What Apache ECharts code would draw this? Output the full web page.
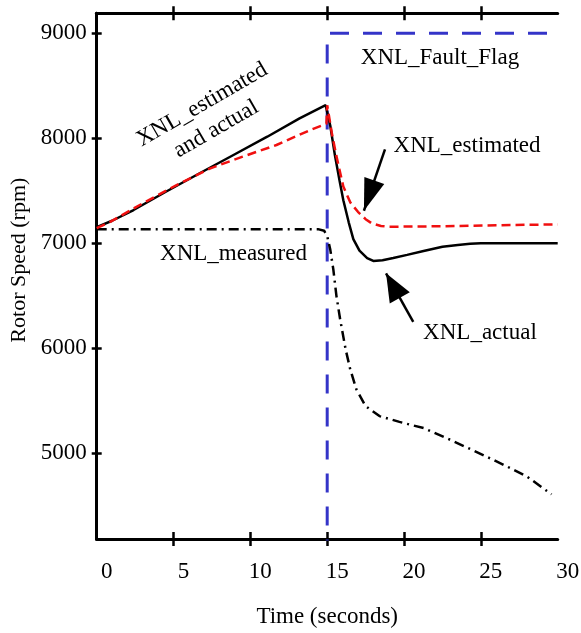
<!DOCTYPE html>
<html>
<head>
<meta charset="utf-8">
<script src="https://cdn.jsdelivr.net/npm/echarts@6/dist/echarts.min.js"></script>
<style>
html,body{margin:0;padding:0;background:#fff;}
#chart{width:581px;height:633px;}
</style>
</head>
<body>
<div id="chart"></div>
<script>
// ---- Data ----
var xTickLabels = [0, 5, 10, 15, 20, 25, 30];
var xTickMarks = [5, 10, 15, 20, 25];
var yTickLabels = [5000, 6000, 7000, 8000, 9000];
var xRange = [0, 30];
var yRange = [4185, 9190];

var actualTime  = [0, 1, 2.4, 4.5, 6.7, 8.9, 11.1, 13.2, 14.9, 15.0, 15.2, 15.5, 15.8, 16.05, 16.4, 16.7, 17.1, 17.6, 18.0, 18.6, 19.3, 20.2, 21.2, 22.5, 23.5, 24.3, 25, 30];
var actualValue = [7155, 7215, 7317, 7491, 7667, 7841, 8015, 8190, 8315, 8322, 8120, 7840, 7600, 7410, 7200, 7040, 6930, 6860, 6832, 6838, 6860, 6890, 6925, 6968, 6985, 6995, 7000, 7000];

var estTime  = [0, 0.9, 3.0, 5.2, 7.4, 9.5, 11.7, 13.9, 14.75, 14.95, 15.0, 15.3, 15.6, 16.05, 16.5, 17.0, 17.5, 17.9, 18.5, 19, 22, 26, 30];
var estValue = [7145, 7206, 7381, 7555, 7714, 7825, 7936, 8079, 8127, 8140, 8315, 8050, 7830, 7540, 7390, 7300, 7230, 7190, 7165, 7158, 7162, 7172, 7180];

var measTime  = [0, 14.4, 14.8, 15.0, 15.2, 15.4, 15.6, 15.85, 16.2, 16.5, 16.9, 17.5, 18.4, 19.7, 21.3, 23.0, 24.7, 26.5, 28.0, 29.6];
var measValue = [7135, 7135, 7120, 7070, 6940, 6750, 6500, 6270, 5990, 5800, 5610, 5450, 5355, 5300, 5240, 5130, 5015, 4890, 4780, 4610];

var flagTime  = [15, 15, 30];
var flagValue = [4000, 9000, 9000];

// annotations: [time, rpm, text, rotation in degrees]
var annotations = [
  [22.34, 8765, 'XNL_Fault_Flag', 0],
  [24.10, 7927, 'XNL_estimated', 0],
  [24.94, 6146, 'XNL_actual', 0],
  [8.90, 6898, 'XNL_measured', 0],
  [7.31, 8203, 'XNL_estimated\nand actual', 30]
];
// arrows: [tailTime, tailRpm, tipTime, tipRpm]
var arrows = [
  [18.76, 7895, 17.39, 7310],
  [20.60, 6253, 18.83, 6714]
];

// ---- Build ----
function zip(a, b) { return a.map(function (v, i) { return [v, b[i]]; }); }
var FONT = 'Liberation Serif';
var headSizes = [[21, 32], [23, 28]];

var chart = echarts.init(document.getElementById('chart'), null, {renderer: 'canvas'});

var axisLineStyle = {show: true, lineStyle: {color: '#000', width: 3}};
var plain = function (v) { return String(v); };
var option = {
  backgroundColor: '#fff',
  animation: false,
  grid: {left: 96.7, right: 23.3, top: 13.3, bottom: 94, outerBoundsMode: 'none', containLabel: false},
  xAxis: [
    {
      type: 'value', position: 'bottom', min: xRange[0], max: xRange[1], interval: 5,
      axisLine: axisLineStyle,
      axisTick: {show: true, inside: true, length: 7, lineStyle: {color: '#000', width: 2.5}, customValues: xTickMarks},
      axisLabel: {show: true, customValues: xTickLabels, formatter: plain, margin: 21, color: '#000', fontFamily: FONT, fontSize: 23, padding: [0, 0, 0, 20]},
      splitLine: {show: false},
      name: 'Time (seconds)', nameLocation: 'middle', nameGap: 66,
      nameTextStyle: {color: '#000', fontFamily: FONT, fontSize: 23}
    },
    {
      type: 'value', position: 'bottom', min: xRange[0], max: xRange[1], interval: 5,
      axisLine: {show: false},
      axisTick: {show: true, inside: false, length: 7, lineStyle: {color: '#000', width: 2.5}, customValues: xTickMarks},
      axisLabel: {show: false}, splitLine: {show: false}
    },
    {
      type: 'value', position: 'top', min: xRange[0], max: xRange[1], interval: 5,
      axisLine: axisLineStyle,
      axisTick: {show: true, inside: true, length: 7, lineStyle: {color: '#000', width: 2.5}, customValues: xTickMarks},
      axisLabel: {show: false}, splitLine: {show: false}
    },
    {
      type: 'value', position: 'top', min: xRange[0], max: xRange[1], interval: 5,
      axisLine: {show: false},
      axisTick: {show: true, inside: false, length: 7, lineStyle: {color: '#000', width: 2.5}, customValues: xTickMarks},
      axisLabel: {show: false}, splitLine: {show: false}
    }
  ],
  yAxis: [
    {
      type: 'value', position: 'left', min: yRange[0], max: yRange[1],
      axisLine: axisLineStyle,
      axisTick: {show: true, inside: true, length: 5, lineStyle: {color: '#000', width: 2.5}, customValues: yTickLabels},
      axisLabel: {show: true, customValues: yTickLabels, formatter: plain, margin: 10, color: '#000', fontFamily: FONT, fontSize: 23, padding: [6, 0, 0, 0]},
      splitLine: {show: false},
      name: 'Rotor Speed (rpm)', nameLocation: 'middle', nameGap: 64, nameRotate: 90,
      nameTextStyle: {color: '#000', fontFamily: FONT, fontSize: 22, padding: [0, 0, 0, 32]}
    },
    {
      type: 'value', position: 'right', min: yRange[0], max: yRange[1],
      axisLine: axisLineStyle,
      axisTick: {show: true, inside: true, length: 5, lineStyle: {color: '#000', width: 2.5}, customValues: yTickLabels},
      axisLabel: {show: false}, splitLine: {show: false}
    }
  ],
  series: [
    {
      name: 'XNL_Fault_Flag', type: 'line', showSymbol: false, clip: true,
      data: zip(flagTime, flagValue),
      lineStyle: {color: '#3434c8', width: 3, type: [19, 14]}, z: 2
    },
    {
      name: 'XNL_measured', type: 'line', showSymbol: false, clip: true,
      data: zip(measTime, measValue),
      lineStyle: {color: '#000', width: 2.5, type: [10, 5, 2, 5]}, z: 3
    },
    {
      name: 'XNL_actual', type: 'line', showSymbol: false, clip: true,
      data: zip(actualTime, actualValue),
      lineStyle: {color: '#000', width: 2.5}, z: 4,
      markLine: {
        silent: true, animation: false,
        symbol: ['none', 'path://M0,0 L1,2 L-1,2 Z'],
        lineStyle: {color: '#000', width: 2.5, type: 'solid'},
        label: {show: false},
        data: arrows.map(function (a, i) {
          return [
            {coord: [a[0], a[1]], symbol: 'none'},
            {coord: [a[2], a[3]], symbol: 'path://M0,0 L1,2 L-1,2 Z', symbolSize: headSizes[i], symbolOffset: [0, headSizes[i][1] / 2], itemStyle: {color: '#000'}}
          ];
        })
      }
    },
    {
      name: 'XNL_estimated', type: 'line', showSymbol: false, clip: true,
      data: zip(estTime, estValue),
      lineStyle: {color: '#f01010', width: 2.5, type: [9, 5]}, z: 5
    },
    {
      name: 'annotations', type: 'scatter', symbolSize: 0, silent: true, z: 6,
      itemStyle: {opacity: 1},
      data: annotations.map(function (a) {
        return {
          value: [a[0], a[1]],
          label: {
            show: true, position: 'inside', formatter: a[2], rotate: a[3],
            color: '#000', opacity: 1, fontFamily: FONT, fontSize: 23, lineHeight: 28,
            align: 'center', verticalAlign: 'middle'
          }
        };
      })
    }
  ]
};
chart.setOption(option);
</script>
</body>
</html>
